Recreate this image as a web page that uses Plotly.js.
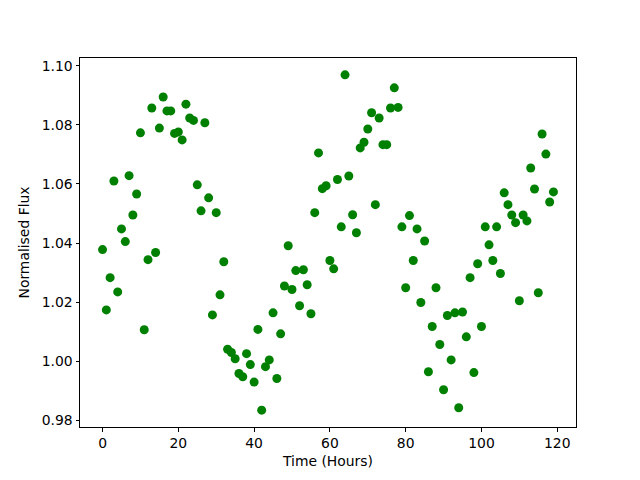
<!DOCTYPE html>
<html>
<head>
<meta charset="utf-8">
<script src="https://cdn.plot.ly/plotly-3.0.1.min.js"></script>
<style>html,body{margin:0;padding:0;background:#fff}#chart{width:640px;height:480px}</style>
</head>
<body>
<div id="chart"></div>
<script>
const hours = [];
for (let i = 0; i < 120; i++) hours.push(i);
const flux = [
  1.0378, 1.0174, 1.0283, 1.0610, 1.0235, 1.0448, 1.0405, 1.0628, 1.0495, 1.0566,
  1.0773, 1.0107, 1.0344, 1.0857, 1.0368, 1.0789, 1.0894, 1.0847, 1.0847, 1.0771,
  1.0776, 1.0749, 1.0870, 1.0823, 1.0815, 1.0597, 1.0509, 1.0807, 1.0553, 1.0157,
  1.0503, 1.0225, 1.0337, 1.0041, 1.0030, 1.0009, 0.9959, 0.9948, 1.0026, 0.9989,
  0.9930, 1.0108, 0.9835, 0.9982, 1.0005, 1.0164, 0.9942, 1.0093, 1.0255, 1.0391,
  1.0243, 1.0307, 1.0188, 1.0310, 1.0259, 1.0161, 1.0503, 1.0705, 1.0584, 1.0594,
  1.0341, 1.0313, 1.0615, 1.0455, 1.0969, 1.0627, 1.0496, 1.0435, 1.0722, 1.0741,
  1.0786, 1.0841, 1.0530, 1.0823, 1.0733, 1.0733, 1.0857, 1.0925, 1.0859, 1.0455,
  1.0249, 1.0493, 1.0341, 1.0448, 1.0199, 1.0407, 0.9965, 1.0118, 1.0249, 1.0057,
  0.9904, 1.0155, 1.0005, 1.0164, 0.9843, 1.0167, 1.0083, 1.0283, 0.9962, 1.0330,
  1.0118, 1.0455, 1.0394, 1.0341, 1.0455, 1.0297, 1.0570, 1.0530, 1.0495, 1.0469,
  1.0205, 1.0495, 1.0475, 1.0654, 1.0583, 1.0232, 1.0769, 1.0701, 1.0539, 1.0573
];
const xTitle = 'Time (Hours)';
const yTitle = 'Normalised Flux';

const font = {family: 'DejaVu Sans, sans-serif', size: 13.9, color: '#000'};
const axisBase = {
  showline: true, mirror: true, linecolor: '#000', linewidth: 1,
  ticks: 'outside', ticklen: 3.5, tickwidth: 1, tickcolor: '#000',
  showgrid: false, zeroline: false, automargin: false,
  tickfont: {family: 'DejaVu Sans, sans-serif', size: 13.9, color: '#000'}
};
Plotly.newPlot('chart', [{
  x: hours, y: flux, type: 'scatter', mode: 'markers',
  marker: {color: '#008000', size: 9}
}], {
  width: 640, height: 480,
  margin: {l: 80, r: 64, t: 58, b: 53},
  paper_bgcolor: '#fff', plot_bgcolor: '#fff',
  font: font,
  showlegend: false,
  xaxis: Object.assign({}, axisBase, {
    range: [-5.95, 124.95], tick0: 0, dtick: 20,
    title: {text: xTitle, font: font, standoff: 6}
  }),
  yaxis: Object.assign({}, axisBase, {
    range: [0.9778, 1.1026], tick0: 0.98, dtick: 0.02, tickformat: '.2f',
    title: {text: yTitle, font: font, standoff: 8}
  })
}, {staticPlot: true, displayModeBar: false});
</script>
</body>
</html>
